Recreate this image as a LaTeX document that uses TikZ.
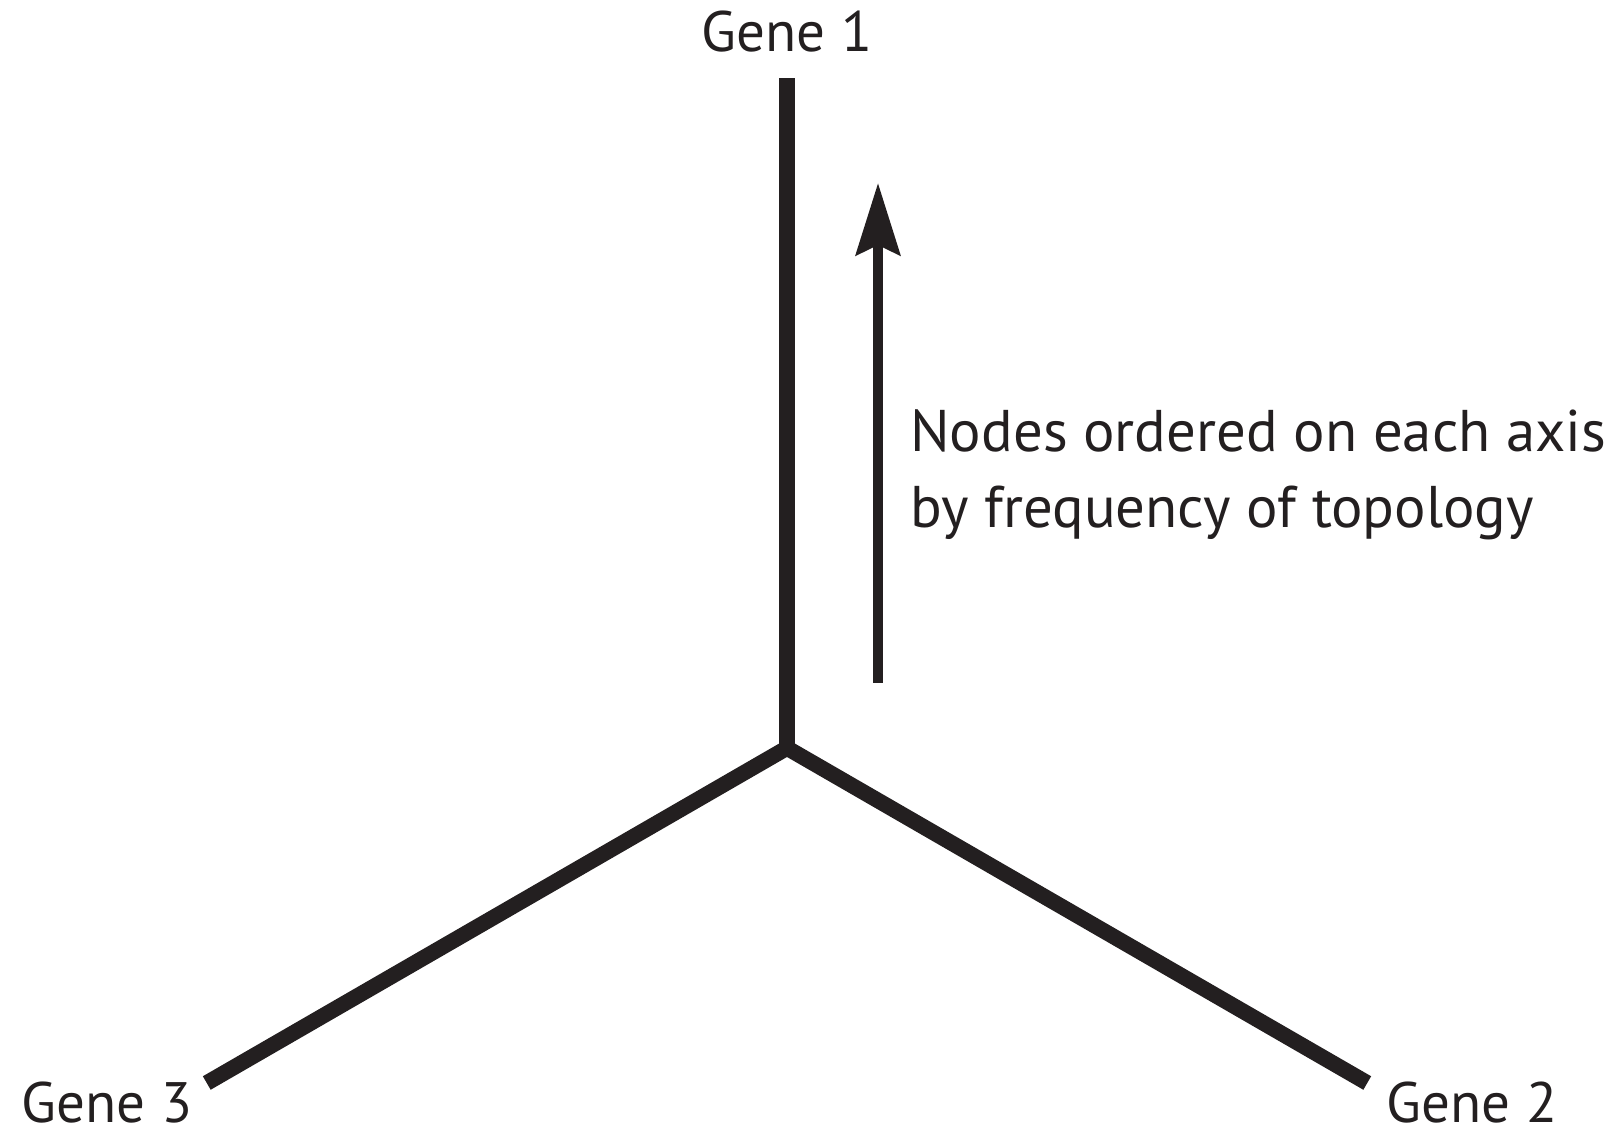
\documentclass[tikz,border=0pt]{standalone}
\usepackage{fontspec}
\setmainfont{PT Sans}
\usetikzlibrary{arrows.meta,calc}
\definecolor{ink}{HTML}{231F20}
\begin{document}
\begin{tikzpicture}[x=0.5pt,y=0.5pt,
  axisline/.style={line width=7.8pt,ink},
  genelb/.style={font=\fontsize{28.5}{32}\selectfont,text=ink,anchor=base,inner sep=0pt}]
\pgfmathsetmacro{\karm}{670}
\useasboundingbox (0,0) rectangle (1616,1135);
\coordinate (hub) at (787,387);
% three axes of equal length, 120 degrees apart
\foreach \kang/\kn in {90/1,-30/2,210/3}{
  \coordinate (e\kn) at ($(hub)+(\kang:\karm)$);
  \draw[axisline] (hub) -- (e\kn);
}
\node[genelb] (g1) at (787,1083) {Gene 1};
\node[genelb] (g2) at (1472,13) {Gene 2};
\node[genelb] (g3) at (107,13) {Gene 3};
% ordering arrow beside the vertical axis
\coordinate (ab) at (878,452);
\coordinate (at) at (878,952);
\draw[line width=5pt,ink,-{Stealth[length=36pt,width=22pt,inset=5pt]}] (ab) -- (at);
\node[anchor=base west,align=left,inner sep=0pt,text=ink,
  font=\fontsize{29.4}{38}\selectfont] (note) at (910,607)
  {Nodes ordered on each axis\\by frequency of topology};
\end{tikzpicture}
\end{document}
